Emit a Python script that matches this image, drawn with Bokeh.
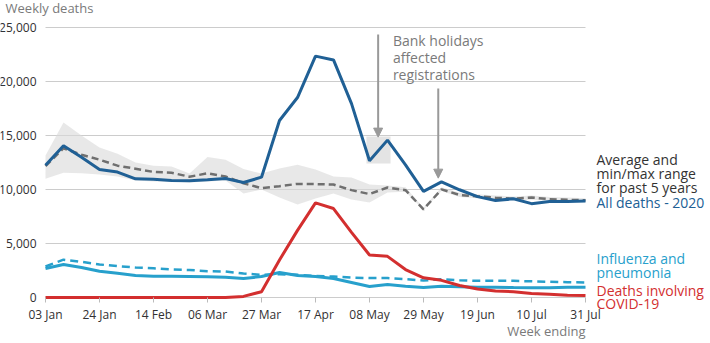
from bokeh.plotting import figure
from bokeh.models import Range1d, FixedTicker, Label, Arrow, NormalHead, NumeralTickFormatter
from bokeh.embed import file_html
from bokeh.resources import INLINE

# ---------------- data ----------------
weeks = ["03 Jan", "10 Jan", "17 Jan", "24 Jan", "31 Jan", "07 Feb", "14 Feb", "21 Feb",
         "28 Feb", "06 Mar", "13 Mar", "20 Mar", "27 Mar", "03 Apr", "10 Apr", "17 Apr",
         "24 Apr", "01 May", "08 May", "15 May", "22 May", "29 May", "05 Jun", "12 Jun",
         "19 Jun", "26 Jun", "03 Jul", "10 Jul", "17 Jul", "24 Jul", "31 Jul"]
tick_labels = ["03 Jan", "24 Jan", "14 Feb", "06 Mar", "27 Mar", "17 Apr", "08 May",
               "29 May", "19 Jun", "10 Jul", "31 Jul"]
y_ticks = [0, 5000, 10000, 15000, 20000, 25000]

all_deaths_2020 = [12254, 14058, 12990, 11856, 11612, 10986, 10944, 10841, 10816, 10895,
                   11019, 10645, 11141, 16387, 18516, 22351, 21997, 17953, 12657, 14573,
                   12288, 9824, 10709, 9976, 9339, 8979, 9140, 8690, 8891, 8885, 8945]
avg_5yr = [12175, 13822, 13216, 12760, 12206, 11925, 11627, 11548, 11183, 11498, 11205,
           10573, 10130, 10305, 10520, 10497, 10458, 9941, 9576, 10188, 9940, 8162,
           10016, 9495, 9373, 9237, 9150, 9267, 9101, 9045, 9006]
min_5yr = [11000, 11550, 11500, 11400, 11200, 10830, 10740, 10740, 10650, 10740, 10830,
           9630, 10000, 9260, 8600, 9170, 9630, 9070, 8800, 9720, 9800, 8100, 9850,
           9300, 9200, 9100, 9000, 9050, 8950, 8900, 8850]
max_5yr = [13150, 16200, 15000, 13900, 13300, 12500, 12200, 12130, 11480, 13000, 12760,
           11900, 11480, 11940, 12300, 11850, 11200, 11100, 10460, 10370, 10200, 8300,
           10200, 9700, 9550, 9450, 9350, 9450, 9300, 9250, 9200]
flu_2020 = [2680, 3050, 2780, 2430, 2250, 2040, 1970, 1970, 1940, 1910, 1880, 1760, 1940,
            2320, 2040, 1940, 1760, 1390, 1020, 1200, 1050, 920, 1050, 1000, 950, 950,
            920, 900, 900, 950, 950]
flu_avg = [2870, 3500, 3300, 3060, 2900, 2780, 2700, 2600, 2550, 2440, 2400, 2220, 2100,
           2150, 2100, 2000, 1940, 1850, 1800, 1800, 1700, 1570, 1700, 1600, 1540, 1540,
           1540, 1500, 1460, 1420, 1390]
covid_2020 = [0, 0, 0, 0, 0, 0, 0, 0, 0, 0, 5, 103, 539, 3475, 6213, 8758, 8237, 6035,
              3930, 3810, 2589, 1822, 1588, 1114, 783, 606, 532, 366, 295, 217, 193]

highlight_weeks = ["08 May", "15 May"]
highlight_low = 12400
highlight_high = 14900

# ---------------- styles ----------------
DARK = "#206095"
LIGHT = "#27a0cc"
RED = "#d32f2f"
GREY_LINE = "#6f6f6f"
GREY_TEXT = "#7a7a7a"
TEXT = "#323132"
FONT = "Open Sans"

W, H = 710, 343
LEFT, BOTTOM = 45, 46          # pixel room for the axes
PX_X = 18.0                    # pixels per week
PX_Y = 10.8 / 1000.0           # pixels per death

x = list(range(len(weeks)))
last = len(weeks) - 1

p = figure(width=W, height=H, output_backend="svg", toolbar_location=None,
           x_range=Range1d(-LEFT / PX_X, (W - LEFT) / PX_X),
           y_range=Range1d(-BOTTOM / PX_Y, (H - BOTTOM) / PX_Y),
           min_border=0)
p.outline_line_color = None
p.background_fill_color = "white"
p.border_fill_color = "white"

# axes drawn inside the (full-canvas) frame at fixed locations
p.xaxis.fixed_location = 0
p.xaxis.bounds = (0, last)
p.xaxis.ticker = FixedTicker(ticks=[weeks.index(t) for t in tick_labels])
p.xaxis.major_label_overrides = {weeks.index(t): t for t in tick_labels}
p.xaxis.axis_line_color = None
p.xaxis.major_tick_line_color = "#bbbbbb"
p.xaxis.major_tick_out = 5
p.xaxis.major_tick_in = 0
p.xaxis.minor_tick_line_color = None
p.xaxis.major_label_standoff = 3
p.xaxis.major_label_text_font = FONT
p.xaxis.major_label_text_font_size = "12px"
p.xaxis.major_label_text_color = TEXT

p.yaxis.fixed_location = 0
p.yaxis.bounds = (0, y_ticks[-1])
p.yaxis.ticker = FixedTicker(ticks=y_ticks)
p.yaxis.formatter = NumeralTickFormatter(format="0,0")
p.yaxis.axis_line_color = None
p.yaxis.major_tick_line_color = None
p.yaxis.minor_tick_line_color = None
p.yaxis.major_label_standoff = 3
p.yaxis.major_label_text_font = FONT
p.yaxis.major_label_text_font_size = "12px"
p.yaxis.major_label_text_color = TEXT

p.xgrid.visible = False
p.ygrid.grid_line_color = "#cccccc"
p.ygrid.grid_line_width = 1
p.ygrid.cross_bounds = (0, last)

# band and highlight
p.varea(x=x, y1=min_5yr, y2=max_5yr, fill_color="#d9d9d9", fill_alpha=0.6)
hl = [weeks.index(w) for w in highlight_weeks]
p.quad(left=[min(hl) - 0.17], right=[max(hl) + 0.17], bottom=[highlight_low],
       top=[highlight_high], fill_color="#d9d9d9", fill_alpha=0.7, line_color=None)

# lines
p.line(x, avg_5yr, line_color=GREY_LINE, line_width=2.5, line_dash="7 4")
p.line(x, flu_avg, line_color=LIGHT, line_width=2.5, line_dash="8 5")
p.line(x, flu_2020, line_color=LIGHT, line_width=3)
p.line(x, all_deaths_2020, line_color=DARK, line_width=3)
p.line(x, covid_2020, line_color=RED, line_width=3)

# arrows
for xs, ys, ye in [(18.48, 24350, 14850), (21.82, 19350, 11050)]:
    p.add_layout(Arrow(end=NormalHead(size=9, fill_color="#999999", line_color="#999999"),
                       x_start=xs, y_start=ys, x_end=xs, y_end=ye,
                       line_color="#999999", line_width=2))

def lab(xv, yv, text, color, size="14px", align="left", xoff=0):
    p.add_layout(Label(x=xv, y=yv, x_offset=xoff, text=text, text_font=FONT,
                       text_font_size=size, text_color=color, text_align=align,
                       text_baseline="middle"))

# bank holiday annotation
for i, t in enumerate(["Bank holidays", "affected", "registrations"]):
    lab(19.3, 23800 - i * 1580, t, GREY_TEXT, size="14px")

# series labels at right
for i, t in enumerate(["Average and", "min/max range", "for past 5 years"]):
    lab(last, 12780 - i * 1300, t, "#333333", xoff=11)
lab(last, 8800, "All deaths - 2020", DARK, xoff=11)
lab(last, 3610, "Influenza and", LIGHT, xoff=11)
lab(last, 2310, "pneumonia", LIGHT, xoff=11)
lab(last, 650, "Deaths involving", RED, xoff=11)
lab(last, -560, "COVID-19", RED, xoff=11)

# axis titles
lab(-2.22, 26760, "Weekly deaths", GREY_TEXT, size="13px")
lab(last, -3060, "Week ending", GREY_TEXT, size="13px", align="right")

open("out.html", "w").write(file_html(p, INLINE))
